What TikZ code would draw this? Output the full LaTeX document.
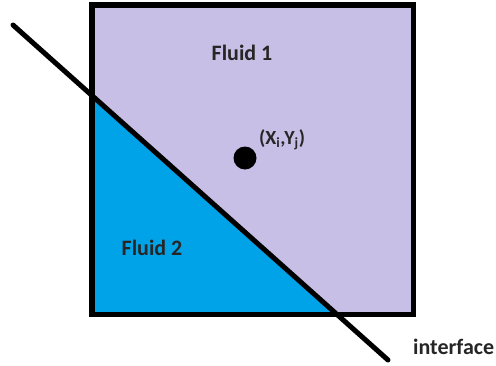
\documentclass[tikz,border=0pt]{standalone}
\usepackage{fontspec}
\setmainfont{Carlito}
\usetikzlibrary{calc}
\definecolor{lav}{HTML}{C8BFE7}
\definecolor{turq}{HTML}{00A2E8}
\tikzset{
  lbl/.style={font=\bfseries\fontsize{22}{26}\selectfont, text=black!85, inner sep=0pt},
  smalllbl/.style={font=\bfseries\fontsize{20}{24}\selectfont, text=black!85, inner sep=0pt},
  border/.style={line width=5.5pt, draw=black},
  iface/.style={line width=5pt, draw=black, line cap=round}
}
\begin{document}
\begin{tikzpicture}[x=1pt,y=-1pt]
\useasboundingbox (0,0) rectangle (496,365);
% square corners
\coordinate (tl) at (92,5);
\coordinate (br) at (413.5,314.5);
\coordinate (p) at (92,95.6);
\coordinate (q) at (337,314.5);
\coordinate (s) at (13,25);
\coordinate (e) at (388,360);
\fill[lav] (tl) rectangle (br);
\fill[turq] (p) -- (92,314.5) -- (q) -- cycle;
\draw[border] (tl) rectangle (br);
\draw[iface] (s) -- (e);
\fill[black] (245,158) circle (11.5);
\node[lbl] (f1) at (242,53) {Fluid 1};
\node[lbl] (f2) at (152,248) {Fluid 2};
\node[smalllbl, anchor=west] (xy) at (259,140) {(X\textsubscript{i},Y\textsubscript{j})};
\node[lbl, anchor=west] (if) at (413,347) {interface};
\end{tikzpicture}
\end{document}
